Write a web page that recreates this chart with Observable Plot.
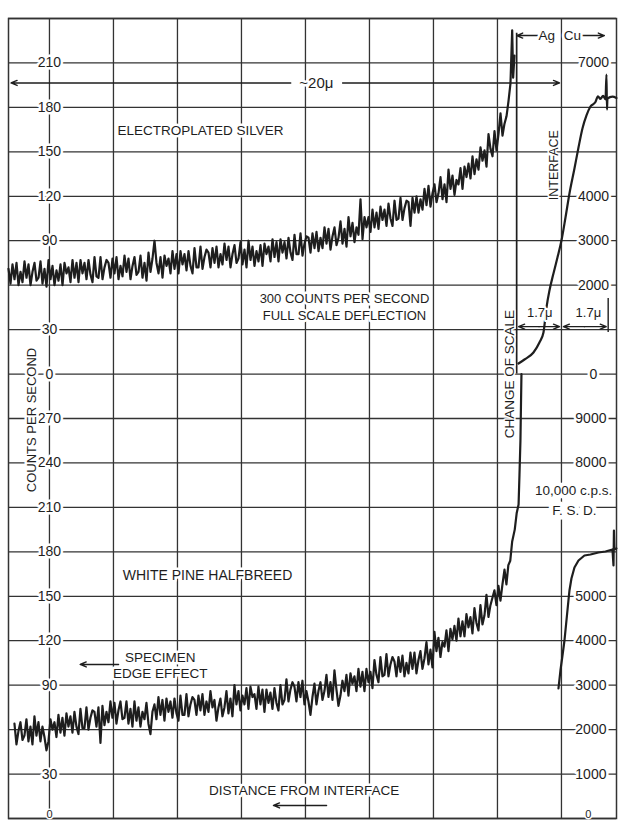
<!DOCTYPE html>
<html><head><meta charset="utf-8">
<script src="https://cdn.jsdelivr.net/npm/d3@7"></script>
<script src="https://cdn.jsdelivr.net/npm/@observablehq/plot@0.6"></script>
<style>html,body{margin:0;padding:0;background:#fff;} #chart svg{display:block}</style>
</head><body><div id="chart"></div>
<script>
// x: chart divisions (one grid square = 1), 0 = Ag/Cu interface
// y: counts per second; upper record drawn on a panel offset by 300
const upperOffset = 300;
const cpsPerDivisionRight = 1000 / 30; // right scales: 1000 c.p.s. per 30-count division
const sampleStep = 1 / 32;
const silverStart = -8.64;
const silverCounts = [
71,61,74,64,75, 60,69,62,76,65, 74,60,69,75,63, 65,76,61,71,59, 77,64,73,60,70,
63,74,60,75,68, 72,62,77,65,75, 62,77,68,75,64, 77,67,62,79,66, 65,79,64,72,77,
75,65,78,68,79, 64,73,66,80,69, 78,64,73,79,67, 69,80,65,75,63, 82,69,78,90,75,
68,79,65,80,73, 78,68,83,71,81, 68,83,74,81,70, 83,73,68,85,72, 72,86,71,79,84,
82,72,85,75,86, 72,81,74,88,77, 86,72,81,87,75, 78,89,74,84,72, 90,77,86,73,83,
76,87,73,88,81, 86,76,91,79,89, 76,91,82,89,78, 92,82,77,94,81, 81,95,80,88,93,
92,82,95,85,96, 83,92,85,99,88, 98,84,93,99,87, 92,103,88,98,86, 106,93,102,89,99,
94,118,91,106,99, 106,96,111,99,109, 98,113,104,111,100, 115,105,100,117,104, 105,119,104,112,117,
116,100,119,109,120, 109,118,111,125,114, 127,113,122,128,116, 122,133,118,128,116, 138,125,134,121,131,
128,139,125,140,133, 142,132,147,135,145, 138,153,144,151,140, 162,152,147,164,151, 162,176,161,169,174
];
const silverTailX = [-0.828, -0.797, -0.77, -0.755, -0.734];
const silverTailCounts = [184, 196, 232, 200, 215];
const scaleChangeX = -0.70;
const scaleChangeTop = 230;

const pineStart = -8.547;
const pineCounts = [
64,50,59,65,53, 56,67,52,62,50, 69,56,65,52,62, 55,46,52,67,60, 65,55,70,58,68,
56,71,62,69,58, 72,62,57,74,61, 61,75,60,68,73, 72,62,75,51,76, 63,72,65,79,68,
78,64,73,79,67, 68,79,64,74,62, 79,66,75,62,72, 67,78,64,57,72, 77,67,82,70,80,
66,81,72,79,68, 81,71,66,83,70, 70,84,69,77,82, 80,70,83,73,84, 70,79,72,86,75,
80,66,75,81,69, 75,86,71,81,69, 90,77,86,73,83, 77,88,74,89,82, 84,74,89,77,87,
72,87,78,85,74, 88,78,73,90,77, 80,94,79,87,92, 89,79,92,82,93, 77,86,79,70,82,
91,77,86,92,80, 86,97,82,92,80, 100,87,76,83,93, 86,97,83,98,91, 96,86,101,89,99,
86,101,92,99,88, 107,97,92,109,96, 97,111,96,104,109, 106,96,109,99,110, 96,105,98,112,101,
112,98,107,113,101, 108,119,104,114,102, 126,113,122,109,119, 116,127,113,128,121, 130,120,135,123,133,
123,138,129,136,125, 142,132,127,144,131, 137,151,136,144,149, 154,144,157,147,158
];
const pineTailX = [-0.89, -0.86, -0.83, -0.80, -0.77, -0.73, -0.70, -0.67, -0.656, -0.641, -0.633, -0.625];
const pineTailCounts = [168, 158, 171, 174, 187, 195, 206, 212, 232, 255, 278, 300];

// copper side, upper record (right scale, c.p.s.)
const cuX   = [-0.672,-0.578,-0.4375,-0.344,-0.281,-0.234,-0.1875,-0.125,-0.0625,0,0.063,0.125,0.203,0.266,0.328,0.391,0.453,0.531,0.57,0.609,0.65,0.688,0.703,0.711,0.719,0.797,0.859];
const cuCps = [238,328,485,710,935,1496,1880,2263,2623,3005,3523,4063,4625,5098,5525,5818,6020,6120,6250,6190,6260,6180,6740,5950,6200,6240,6210];
// copper side, lower record (10,000 c.p.s. F.S.D.)
const fsdX   = [-0.047,-0.016,0.016,0.047,0.078,0.109,0.125,0.156,0.203,0.266,0.359,0.453,0.578,0.688,0.797,0.813,0.820,0.828,0.859];
const fsdCps = [2925,3330,3668,4005,4455,4905,5130,5400,5648,5805,5918,5940,5985,6008,6053,5693,6480,6053,6075];

const upperLeftTicks = [210,180,150,120,90,30,0];
const lowerLeftTicks = [270,240,210,180,150,120,90,30,0];
const upperRightTicks = [7000,4000,3000,2000,0];
const lowerRightTicks = [9000,8000,5000,4000,3000,2000,1000,0];
const gridX = [-8,-7,-6,-5,-4,-3,-2,-1,0];
const gridY = [0,30,60,90,120,150,180,210,240,270,300,330,360,390,420,450,480,510,540];

const silver = silverCounts.map((c, i) => ({x: silverStart + i * sampleStep, y: c + upperOffset}))
  .concat(silverTailX.map((x, i) => ({x, y: silverTailCounts[i] + upperOffset})));
const pine = pineCounts.map((c, i) => ({x: pineStart + i * sampleStep, y: c}))
  .concat(pineTailX.map((x, i) => ({x, y: pineTailCounts[i]})));
const cu = cuX.map((x, i) => ({x, y: upperOffset + cuCps[i] / cpsPerDivisionRight}));
const fsd = fsdX.map((x, i) => ({x, y: fsdCps[i] / cpsPerDivisionRight}));

const ink = "#1e1e1e";
const gridColor = "#333";
const halo = {fill: ink, stroke: "#fff", strokeWidth: 5, fontSize: 13.5};
const label = (t, x, y, extra = {}) => Plot.text([t], {x: () => x, y: () => y, text: d => d, ...halo, ...extra});

const chart = Plot.plot({
  width: 622, height: 823,
  marginLeft: 8, marginRight: 6, marginTop: 18, marginBottom: 5,
  style: {background: "#fff", fontFamily: "Liberation Sans, Arial, sans-serif"},
  x: {domain: [-8.64, 0.86], axis: null},
  y: {domain: [0, 540], axis: null},
  marks: [
    Plot.ruleY(gridY, {stroke: gridColor, strokeWidth: 1.3}),
    Plot.ruleX(gridX, {stroke: gridColor, strokeWidth: 1.3}),
    Plot.frame({stroke: gridColor, strokeWidth: 1.5}),
    Plot.line(silver, {x: "x", y: "y", stroke: ink, strokeWidth: 2.2, strokeLinejoin: "round"}),
    Plot.line(pine, {x: "x", y: "y", stroke: ink, strokeWidth: 2.2, strokeLinejoin: "round"}),
    Plot.ruleX([scaleChangeX], {y1: () => upperOffset, y2: () => upperOffset + scaleChangeTop, stroke: ink, strokeWidth: 1.7}),
    Plot.line(cu, {x: "x", y: "y", stroke: ink, strokeWidth: 2.2, curve: "monotone-x"}),
    Plot.line(fsd, {x: "x", y: "y", stroke: ink, strokeWidth: 2.2, curve: "linear"}),
    // arrows
    Plot.arrow([
      {x1: -4.23, x2: -8.60, y: 496.5},
      {x1: -3.42, x2: -0.03, y: 496.5},
      {x1: -0.37, x2: -0.70, y: 528.5},
      {x1: 0.28, x2: 0.67, y: 528.5},
      {x1: -0.35, x2: -0.67, y: 332},
      {x1: -0.35, x2: -0.03, y: 332},
      {x1: 0.36, x2: 0.03, y: 332},
      {x1: 0.36, x2: 0.70, y: 332},
      {x1: -6.92, x2: -7.52, y: 104},
      {x1: -3.67, x2: -4.50, y: 8.8}
    ], {x1: "x1", x2: "x2", y1: "y", y2: "y", stroke: ink, strokeWidth: 1.4, headLength: 7, headAngle: 45}),
    Plot.ruleX([0.73], {y1: () => 328, y2: () => 351, stroke: ink, strokeWidth: 1.4}),
    // axis labels
    Plot.text(upperLeftTicks, {x: () => -8, y: d => d + upperOffset, text: d => String(d), ...halo, fontSize: 14}),
    Plot.text(lowerLeftTicks, {filter: d => d > 0, x: () => -8, y: d => d, text: d => String(d), ...halo, fontSize: 14}),
    Plot.text(lowerLeftTicks, {filter: d => d === 0, x: () => -8, y: d => d, text: d => String(d), ...halo, strokeWidth: 3, fontSize: 11, lineAnchor: "bottom", dy: -1}),
    Plot.text(upperRightTicks, {x: () => 0.5, y: d => upperOffset + d / cpsPerDivisionRight, text: d => String(d), ...halo, fontSize: 14}),
    Plot.text(lowerRightTicks, {filter: d => d > 0, x: () => 0.46, y: d => d / cpsPerDivisionRight, text: d => String(d), ...halo, fontSize: 14}),
    Plot.text(lowerRightTicks, {filter: d => d === 0, x: () => 0.42, y: d => d / cpsPerDivisionRight, text: d => String(d), ...halo, strokeWidth: 3, fontSize: 11, lineAnchor: "bottom", dy: -1}),
    label("COUNTS PER SECOND", -8.27, 269, {rotate: -90, fontSize: 13}),
    label("ELECTROPLATED SILVER", -5.64, 464),
    label("~20\u03bc", -3.83, 496.5, {fontSize: 15}),
    label("Ag", -0.23, 528.5),
    label("Cu", 0.17, 528.5),
    label("INTERFACE", -0.11, 441, {rotate: -90, fontSize: 12.5, strokeWidth: 3}),
    label("300 COUNTS PER SECOND", -3.39, 351, {fontSize: 13}),
    label("FULL SCALE DEFLECTION", -3.39, 339.5, {fontSize: 13}),
    label("CHANGE OF SCALE", -0.81, 300, {rotate: -90, fontSize: 13.5, strokeWidth: 3}),
    label("1.7\u03bc", -0.34, 341.5, {fontSize: 13, strokeWidth: 4}),
    label("1.7\u03bc", 0.42, 341.5, {fontSize: 13, strokeWidth: 4}),
    label("10,000 c.p.s.", 0.19, 221.5, {strokeWidth: 8}),
    label("F. S. D.", 0.2, 208, {strokeWidth: 9}),
    label("WHITE PINE HALFBREED", -5.53, 164, {fontSize: 14}),
    label("SPECIMEN", -6.27, 108.7),
    label("EDGE EFFECT", -6.27, 98),
    label("DISTANCE FROM INTERFACE", -4.02, 19)
  ]
});
document.getElementById("chart").appendChild(chart);
</script>
</body></html>
